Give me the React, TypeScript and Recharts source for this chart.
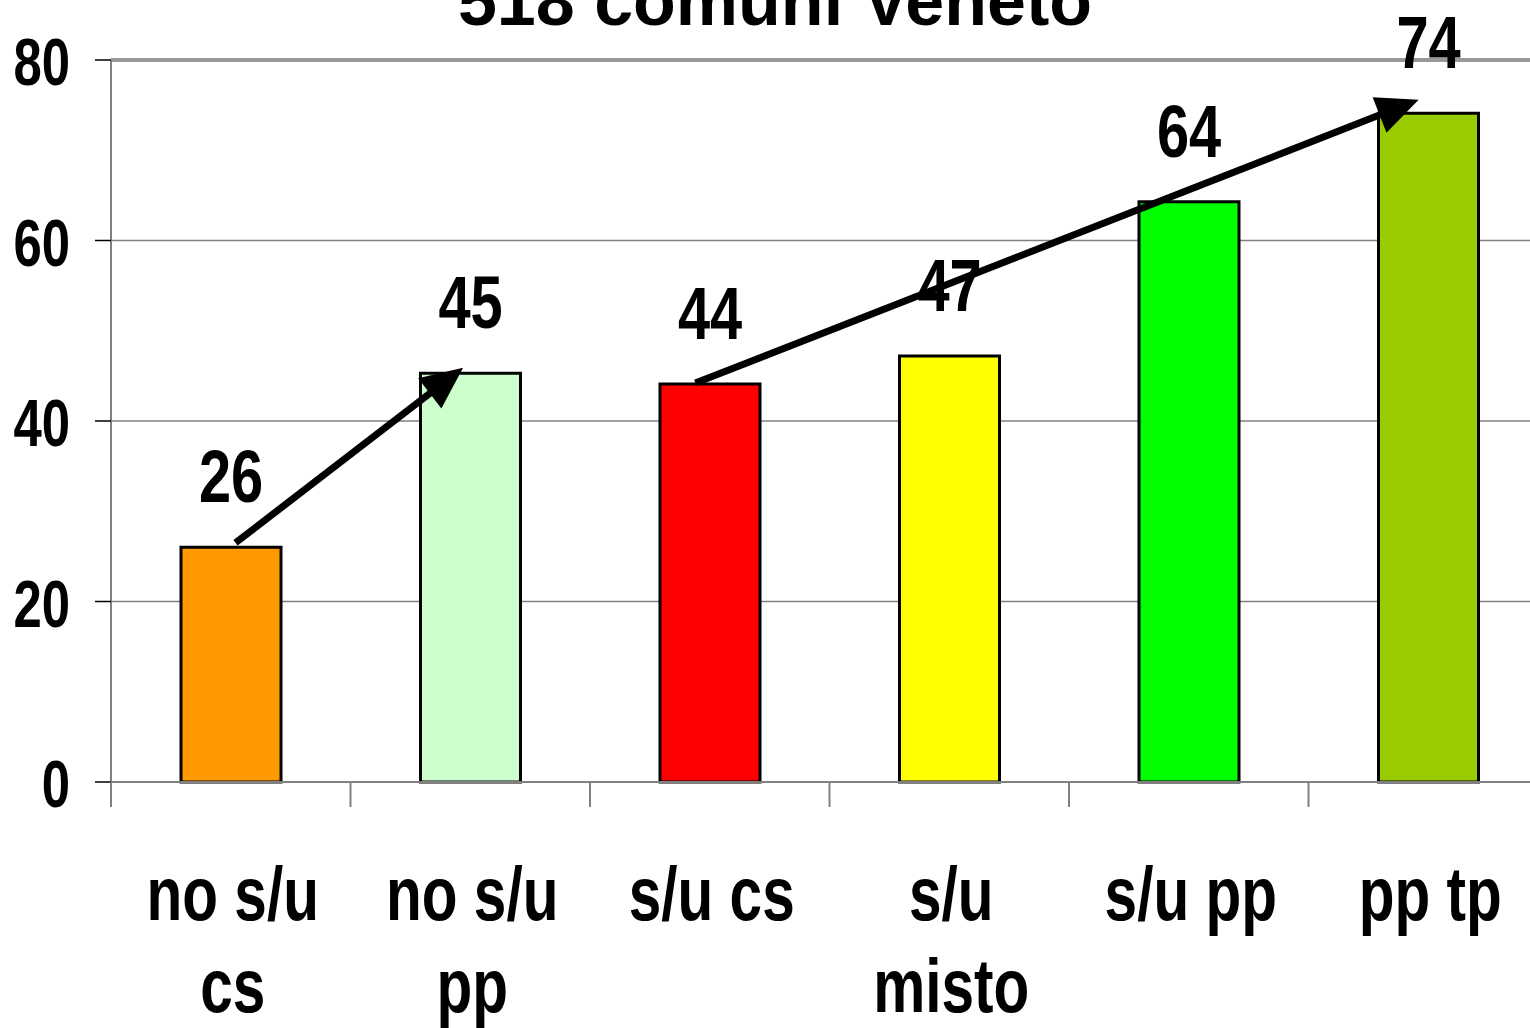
import React from "react";
import {
  BarChart,
  Bar,
  Cell,
  XAxis,
  YAxis,
  CartesianGrid,
  LabelList,
  ReferenceLine,
} from "recharts";

// categories (multi-line labels split by "\n")
const categories = ["no s/u\ncs", "no s/u\npp", "s/u cs", "s/u\nmisto", "s/u pp", "pp tp"];
const values = [26.0, 45.3, 44.1, 47.2, 64.3, 74.1];
const barColors = ["#FF9900", "#CCFFCC", "#FF0000", "#FFFF00", "#00FF00", "#99CC00"];
const yTicks = [0, 20, 40, 60, 80];

// arrows, in category units (0..6 across the plot) and value units
const arrowStart = [
  { x: 0.52, y: 26.5 },
  { x: 2.44, y: 44.2 },
];
const arrowEnd = [
  { x: 1.47, y: 45.9 },
  { x: 5.46, y: 75.6 },
];

const title = "518 comuni Veneto";

// no Arial Narrow here, so squeeze Liberation Sans Bold sideways
const FONT = "'Liberation Sans', Arial, sans-serif";
const SQUEEZE = 0.77;

// pos = centre of each category on a 0..6 numeric axis (used for the arrows)
const data = categories.map((name, i) => ({ name, value: values[i], pos: i + 0.5 }));

const NarrowText = ({ x, y, size, anchor = "middle", dy = 0, children }: any) => (
  <text
    transform={`translate(${x},${y}) scale(${SQUEEZE},1)`}
    x={0}
    y={0}
    dy={dy}
    textAnchor={anchor}
    fontFamily={FONT}
    fontWeight="bold"
    fontSize={size}
    fill="#000"
  >
    {children}
  </text>
);

const ArrowShape = (p: any) => {
  const { x1, y1, x2, y2 } = p;
  const ang = Math.atan2(y2 - y1, x2 - x1);
  const L = 42;
  const W = 19;
  const c = Math.cos(ang);
  const s = Math.sin(ang);
  const bx = x2 - L * c;
  const by = y2 - L * s;
  const pts = `${x2},${y2} ${bx - W * s},${by + W * c} ${bx + W * s},${by - W * c}`;
  return (
    <g>
      <line x1={x1} y1={y1} x2={bx + 4 * c} y2={by + 4 * s} stroke="#000" strokeWidth={7} />
      <polygon points={pts} fill="#000" />
    </g>
  );
};

const CategoryTick = (props: any) => {
  const { x, y, payload } = props;
  const off = payload.offset ?? 0;
  const lines = String(payload.value).split("\n");
  return (
    <g>
      <line x1={x - off} y1={y} x2={x - off} y2={y + 25} stroke="#808080" strokeWidth={2} />
      {lines.map((ln, i) => (
        <NarrowText key={i} x={x + 2} y={y + 138 + i * 92} size={76}>
          {ln}
        </NarrowText>
      ))}
    </g>
  );
};

const ValueTick = (props: any) => {
  const { x, y, payload } = props;
  return (
    <NarrowText x={x} y={y + 2} size={66} anchor="end" dy="0.355em">
      {payload.value}
    </NarrowText>
  );
};

const BarValue = (props: any) => {
  const { x, y, width, value } = props;
  return (
    <NarrowText x={Number(x) + Number(width) / 2} y={Number(y) - 45} size={75}>
      {Math.round(Number(value))}
    </NarrowText>
  );
};

export default function App() {
  return (
    <div
      style={{
        position: "absolute",
        top: 0,
        left: 0,
        width: 1530,
        height: 1028,
        overflow: "hidden",
        background: "#fff",
      }}
    >
      <BarChart
        width={1548}
        height={1028}
        data={data}
        margin={{ top: 60, right: 0, bottom: 0, left: 0 }}
        barSize={100}
      >
        <CartesianGrid xAxisId="cat" horizontal vertical={false} stroke="#808080" strokeWidth={1.5} />
        <XAxis
          xAxisId="b"
          dataKey="pos"
          type="number"
          domain={[0, 6]}
          allowDataOverflow
          height={0}
          hide
        />
        <XAxis
          xAxisId="cat"
          dataKey="name"
          height={246}
          interval={0}
          tickSize={0}
          tickMargin={0}
          tickLine={false}
          axisLine={{ stroke: "#808080", strokeWidth: 2 }}
          tick={<CategoryTick />}
        />
        <YAxis
          width={111}
          domain={[0, 80]}
          ticks={yTicks}
          interval={0}
          tickSize={16}
          tickMargin={25}
          tickLine={{ stroke: "#000", strokeWidth: 1.5 }}
          axisLine={{ stroke: "#808080", strokeWidth: 2 }}
          tick={<ValueTick />}
        />
        <ReferenceLine xAxisId="cat" y={80} stroke="#999999" strokeWidth={4} />
        <Bar xAxisId="cat" dataKey="value" stroke="#000" strokeWidth={3} isAnimationActive={false}>
          {data.map((d, i) => (
            <Cell key={d.name} fill={barColors[i]} />
          ))}
          <LabelList dataKey="value" content={<BarValue />} />
        </Bar>
        {arrowStart.map((a, i) => (
          <ReferenceLine
            key={i}
            xAxisId="b"
            segment={[
              { x: a.x, y: a.y },
              { x: arrowEnd[i].x, y: arrowEnd[i].y },
            ]}
            ifOverflow="visible"
            shape={ArrowShape}
          />
        ))}
      </BarChart>
      <svg
        width={1530}
        height={60}
        style={{ position: "absolute", top: 0, left: 0, pointerEvents: "none" }}
      >
        <text
          x={775}
          y={25}
          textAnchor="middle"
          fontFamily={FONT}
          fontWeight="bold"
          fontSize={70}
          fill="#000"
        >
          {title}
        </text>
      </svg>
    </div>
  );
}
